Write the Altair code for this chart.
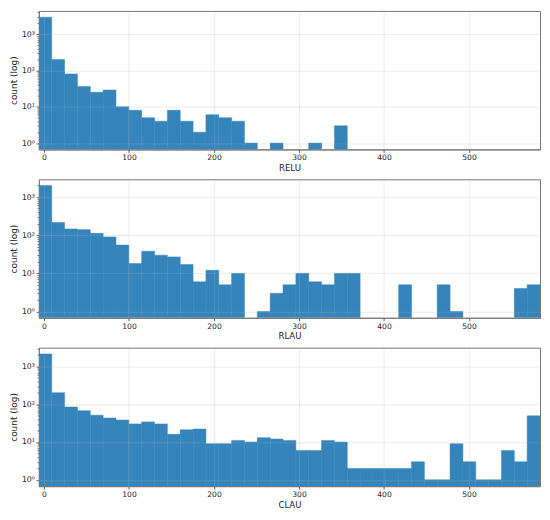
import numpy as np
import pandas as pd
import altair as alt

# ---- data ----
X_MIN = -6.0
X_MAX = 583.5
N_BINS = 39

relu_counts = [2900, 200, 80, 36, 25, 29, 10, 8, 5, 4,
               8, 4, 2, 6, 5, 4, 1, 0, 1, 0,
               0, 1, 0, 3, 0, 0, 0, 0, 0, 0,
               0, 0, 0, 0, 0, 0, 0, 0, 0]
rlau_counts = [2000, 216, 146, 140, 112, 90, 55, 18, 38, 30,
               27, 17, 6, 12, 5, 10, 0, 1, 3, 5,
               10, 6, 5, 10, 10, 0, 0, 0, 5, 0,
               0, 5, 1, 0, 0, 0, 0, 4, 5]
clau_counts = [2115, 200, 84, 67, 51, 43, 38, 30, 34, 30,
               16, 21, 22, 9, 9, 11, 10, 13, 12, 11,
               6, 6, 11, 10, 2, 2, 2, 2, 2, 3,
               1, 1, 9, 3, 1, 1, 6, 3, 49]
panel_names = ["RELU", "RLAU", "CLAU"]
x_ticks = [0, 100, 200, 300, 400, 500]
y_title = "count (log)"

BAR = "#3585bc"
FRAME = "#777777"
W, H = 503, 139

edges = np.linspace(X_MIN, X_MAX, N_BINS + 1)

major_test = "abs(log(datum.value)/LN10 - round(log(datum.value)/LN10)) < 1e-6"
sup_expr = ("(" + major_test + ") ? '10' + ['⁰','¹','²','³','⁴','⁵'][round(log(datum.value)/LN10)] : ''")


def panel(name, counts):
    df = pd.DataFrame({"start": edges[:-1], "end": edges[1:], "count": counts})
    df = df[df["count"] > 0]
    L = np.log10(max(counts))
    ymin, ymax = 10 ** (-0.05 * L), 10 ** (1.05 * L)
    yticks = [m * 10 ** k for k in range(0, 6) for m in range(1, 10) if m * 10 ** k <= ymax]
    return alt.Chart(df).mark_bar(color=BAR, stroke=BAR, strokeWidth=0.5, clip=True).encode(
        x=alt.X("start:Q",
                scale=alt.Scale(domain=[X_MIN, X_MAX], nice=False, zero=False),
                axis=alt.Axis(values=x_ticks, title=name, format="d", zindex=1,
                              grid=True, gridColor="#b0b0b0", gridOpacity=0.3, gridWidth=0.8,
                              domain=True, domainColor=FRAME, domainWidth=1,
                              tickSize=3, tickColor="#333333", tickWidth=0.8,
                              labelFontSize=7.6, labelPadding=1.5, labelColor="#222222",
                              titleFontSize=8.6, titlePadding=2, titleColor="#222222",
                              titleFontWeight="normal")),
        x2="end:Q",
        y=alt.Y("count:Q",
                scale=alt.Scale(type="log", domain=[ymin, ymax], nice=False),
                axis=alt.Axis(values=yticks, title=y_title, labelExpr=sup_expr, zindex=1,
                              grid=True, gridColor="#b0b0b0", gridWidth=0.8,
                              gridOpacity={"condition": {"test": major_test, "value": 0.3}, "value": 0},
                              domain=True, domainColor=FRAME, domainWidth=1,
                              tickSize={"condition": {"test": major_test, "value": 3}, "value": 1.8},
                              tickColor="#333333", tickWidth=0.7,
                              labelFontSize=7.8, labelPadding=1.5, labelColor="#222222",
                              titleFontSize=9, titlePadding=3, titleColor="#222222",
                              titleFontWeight="normal")),
        y2=alt.datum(ymin),
    ).properties(width=W, height=H)


chart = alt.vconcat(
    *[panel(n, c) for n, c in zip(panel_names, [relu_counts, rlau_counts, clau_counts])],
    spacing=30, bounds="flush"
).properties(
    padding={"left": 0, "top": 1, "right": 1, "bottom": 0}
).configure(
    font="DejaVu Sans"
).configure_view(
    stroke=FRAME, strokeWidth=1
).configure_axis(
    labelFont="DejaVu Sans", titleFont="DejaVu Sans"
)

chart.save("out.html", embed_options={"renderer": "svg", "actions": False})
